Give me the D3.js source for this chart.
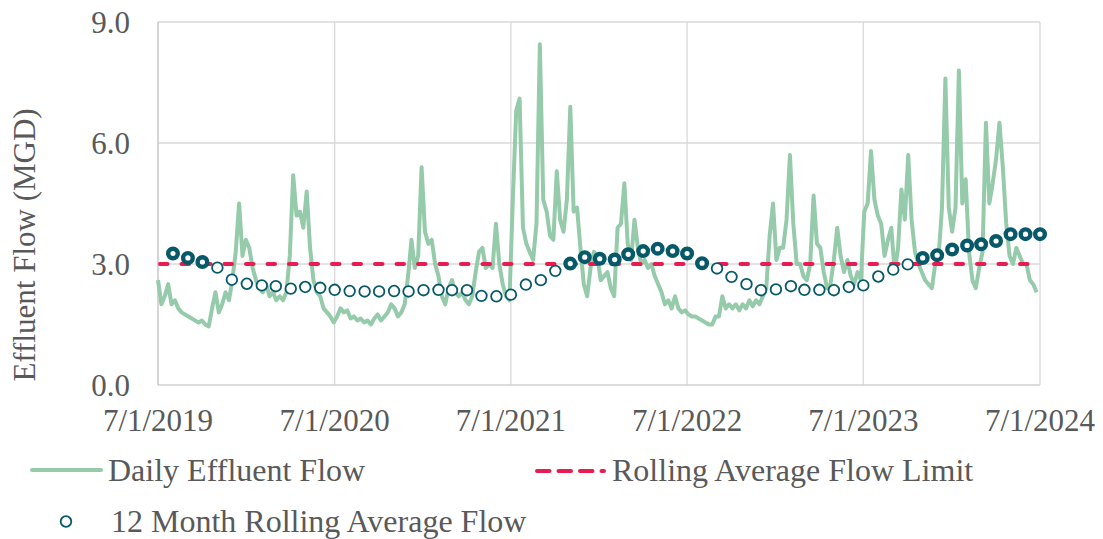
<!DOCTYPE html>
<html>
<head>
<meta charset="utf-8">
<script src="https://cdn.jsdelivr.net/npm/d3@7"></script>
<style>
  body { margin: 0; background: #fff; }
  text { font-family: "Liberation Serif", "Times New Roman", serif; fill: #595959; }
</style>
</head>
<body>
<div id="chart"></div>
<script>
var width = 1103;
var height = 539;
var margin = ({top: 22, right: 63, bottom: 154, left: 158});

// weekly readings of the daily flow, starting 7/1/2019
var flowStart = new Date(2019, 6, 1);
var dailyFlow = [
  2.6, 2.0, 2.2, 2.5, 2.0, 2.1, 1.9, 1.8, 1.75, 1.7, 1.65, 1.6, 1.55, 1.6, 1.5, 1.45, 1.9, 2.3, 1.8, 2.0,
  2.3, 2.1, 2.6, 3.3, 4.5, 3.2, 3.6, 3.4, 2.9, 2.6, 2.4, 2.3, 2.5, 2.2, 2.3, 2.1, 2.2, 2.1, 2.3, 3.2,
  5.2, 4.2, 4.3, 3.9, 4.8, 3.4, 2.6, 2.3, 2.2, 1.9, 1.8, 1.7, 1.55, 1.7, 1.9, 1.8, 1.85, 1.65, 1.7, 1.6,
  1.65, 1.55, 1.6, 1.5, 1.65, 1.75, 1.6, 1.7, 1.8, 2.0, 1.9, 1.7, 1.8, 2.0, 2.7, 3.6, 2.9, 3.2, 5.4, 3.8,
  3.5, 3.6, 3.0, 2.7, 2.2, 2.0, 2.4, 2.6, 2.3, 2.2, 2.3, 2.1, 2.0, 2.2, 2.8, 3.3, 3.4, 2.9, 3.0, 2.9,
  4.0, 3.0, 2.5, 2.2, 2.1, 4.6, 6.8, 7.1, 3.9, 3.5, 3.3, 3.1, 4.0, 8.45, 4.6, 4.3, 3.7, 3.6, 5.3, 4.1,
  3.8, 4.6, 6.9, 4.3, 4.4, 3.4, 2.5, 2.2, 2.9, 3.3, 3.2, 2.6, 2.7, 2.8, 2.4, 2.2, 3.9, 4.0, 5.0, 3.5,
  3.1, 4.1, 3.4, 3.0, 3.1, 2.9, 3.0, 2.7, 2.5, 2.3, 2.0, 2.1, 1.9, 2.2, 1.9, 1.8, 1.85, 1.75, 1.7, 1.7,
  1.65, 1.6, 1.55, 1.5, 1.5, 1.7, 1.7, 2.2, 1.9, 2.0, 1.9, 2.0, 1.85, 2.0, 1.9, 2.1, 1.95, 2.1, 2.0, 2.2,
  2.4, 3.7, 4.5, 3.1, 3.4, 3.4, 4.1, 5.7, 4.0, 3.0, 3.0, 2.7, 2.6, 3.0, 4.7, 3.5, 3.4, 2.8, 2.4, 2.5,
  3.1, 3.9, 3.2, 2.8, 3.1, 2.7, 2.5, 2.8, 2.6, 4.3, 4.5, 5.8, 4.6, 4.2, 4.0, 3.2, 3.6, 3.9, 2.8, 3.4,
  4.85, 4.1, 5.7, 4.1, 3.3, 3.0, 2.8, 2.6, 2.5, 2.4, 3.0, 3.2, 4.4, 7.6, 4.4, 3.8, 4.4, 7.8, 4.5, 5.1,
  3.3, 2.6, 2.4, 2.9, 3.3, 6.5, 4.5, 5.0, 5.6, 6.5, 5.4, 4.0, 3.2, 3.0, 3.4, 3.2, 3.0, 3.0, 2.6, 2.5,
  2.3
];

// 12 month rolling average, first of each month Aug 2019 - Jul 2024
var rollingStart = new Date(2019, 7, 1);
var rollingAvg = [
  3.26, 3.15, 3.05, 2.91, 2.61, 2.51, 2.47, 2.45, 2.39, 2.43,
  2.41, 2.36, 2.33, 2.32, 2.32, 2.33, 2.32, 2.35, 2.36, 2.35,
  2.35, 2.21, 2.20, 2.24, 2.49, 2.60, 2.83, 3.01, 3.17, 3.13,
  3.11, 3.24, 3.32, 3.38, 3.32, 3.26, 3.02, 2.89, 2.68, 2.50,
  2.35, 2.37, 2.45, 2.36, 2.36, 2.35, 2.43, 2.47, 2.69, 2.86,
  2.99, 3.15, 3.22, 3.36, 3.46, 3.49, 3.57, 3.74, 3.74, 3.74
];

var flowLimit = 3.0;

var xTickDates = [new Date(2019, 6, 1), new Date(2020, 6, 1), new Date(2021, 6, 1),
                  new Date(2022, 6, 1), new Date(2023, 6, 1), new Date(2024, 6, 1)];
var xTickLabels = ["7/1/2019", "7/1/2020", "7/1/2021", "7/1/2022", "7/1/2023", "7/1/2024"];
var yTicks = [0, 3, 6, 9];
var yTickLabels = ["0.0", "3.0", "6.0", "9.0"];

var legendLabels = ["Daily Effluent Flow", "Rolling Average Flow Limit", "12 Month Rolling Average Flow"];

var green = "#95cbaa";
var red = "#e91c52";
var teal = "#07596a";

var daily = dailyFlow.map((v, i) => [d3.timeDay.offset(flowStart, i * 7), v]);
var rolling = rollingAvg.map((v, i) => [d3.timeMonth.offset(rollingStart, i), v]);

var x = d3.scaleTime()
    .domain([xTickDates[0], xTickDates[xTickDates.length - 1]])
    .range([margin.left, width - margin.right]);

var y = d3.scaleLinear()
    .domain([0, 9])
    .range([height - margin.bottom, margin.top]);

var svg = d3.select("#chart").append("svg")
    .attr("width", width)
    .attr("height", height)
    .attr("viewBox", [0, 0, width, height]);

// gridlines
svg.append("g")
    .attr("stroke", "#d9d9d9")
    .attr("stroke-width", 1.3)
  .selectAll("line")
  .data(yTicks.slice(1))
  .join("line")
    .attr("x1", x.range()[0])
    .attr("x2", x.range()[1])
    .attr("y1", d => y(d))
    .attr("y2", d => y(d));

svg.append("g")
    .attr("stroke", "#d9d9d9")
    .attr("stroke-width", 1.3)
  .selectAll("line")
  .data(xTickDates.slice(1))
  .join("line")
    .attr("x1", d => x(d))
    .attr("x2", d => x(d))
    .attr("y1", y(0))
    .attr("y2", y(9));

// axes
svg.append("line")
    .attr("x1", x.range()[0]).attr("x2", x.range()[1])
    .attr("y1", y(0)).attr("y2", y(0))
    .attr("stroke", "#d0d0d0")
    .attr("stroke-width", 1.3);

svg.append("line")
    .attr("x1", x.range()[0]).attr("x2", x.range()[0])
    .attr("y1", y(0)).attr("y2", y(9))
    .attr("stroke", "#bfbfbf")
    .attr("stroke-width", 1.3);

svg.append("g")
  .selectAll("text")
  .data(yTicks)
  .join("text")
    .attr("x", 130)
    .attr("y", d => y(d))
    .attr("dy", "0.34em")
    .attr("text-anchor", "end")
    .attr("font-size", 31)
    .text((d, i) => yTickLabels[i]);

svg.append("g")
  .selectAll("text")
  .data(xTickDates)
  .join("text")
    .attr("x", d => x(d))
    .attr("y", 431)
    .attr("text-anchor", "middle")
    .attr("font-size", 31)
    .text((d, i) => xTickLabels[i]);

svg.append("text")
    .attr("transform", "translate(35,245) rotate(-90)")
    .attr("text-anchor", "middle")
    .attr("font-size", 31)
    .text("Effluent Flow (MGD)");

// daily flow
var line = d3.line()
    .x(d => x(d[0]))
    .y(d => y(d[1]));

svg.append("path")
    .datum(daily)
    .attr("fill", "none")
    .attr("stroke", green)
    .attr("stroke-width", 4)
    .attr("stroke-linejoin", "round")
    .attr("d", line);

// limit
svg.append("line")
    .attr("x1", x.range()[0] + 2)
    .attr("x2", x.range()[1])
    .attr("y1", y(flowLimit))
    .attr("y2", y(flowLimit))
    .attr("stroke", red)
    .attr("stroke-width", 4)
    .attr("stroke-linecap", "round")
    .attr("stroke-dasharray", "7.5,14");

// rolling average
svg.append("g")
  .selectAll("circle")
  .data(rolling)
  .join("circle")
    .attr("cx", d => x(d[0]))
    .attr("cy", d => y(d[1]))
    .attr("r", d => d[1] > flowLimit ? 4.8 : 5.3)
    .attr("fill", "#fff")
    .attr("stroke", teal)
    .attr("stroke-width", d => d[1] > flowLimit ? 4.4 : 1.8);

// legend
var legend = svg.append("g");

legend.append("line")
    .attr("x1", 32).attr("x2", 101)
    .attr("y1", 470).attr("y2", 470)
    .attr("stroke", green)
    .attr("stroke-width", 4)
    .attr("stroke-linecap", "round");

legend.append("text")
    .attr("x", 108).attr("y", 481)
    .attr("font-size", 32)
    .text(legendLabels[0]);

legend.append("line")
    .attr("x1", 537).attr("x2", 604)
    .attr("y1", 471).attr("y2", 471)
    .attr("stroke", red)
    .attr("stroke-width", 4)
    .attr("stroke-linecap", "round")
    .attr("stroke-dasharray", "12.5,9");

legend.append("text")
    .attr("x", 612).attr("y", 481)
    .attr("font-size", 32)
    .text(legendLabels[1]);

legend.append("circle")
    .attr("cx", 66).attr("cy", 521.5)
    .attr("r", 5.3)
    .attr("fill", "#fff")
    .attr("stroke", teal)
    .attr("stroke-width", 1.8);

legend.append("text")
    .attr("x", 111).attr("y", 532)
    .attr("font-size", 32)
    .text(legendLabels[2]);
</script>
</body>
</html>
